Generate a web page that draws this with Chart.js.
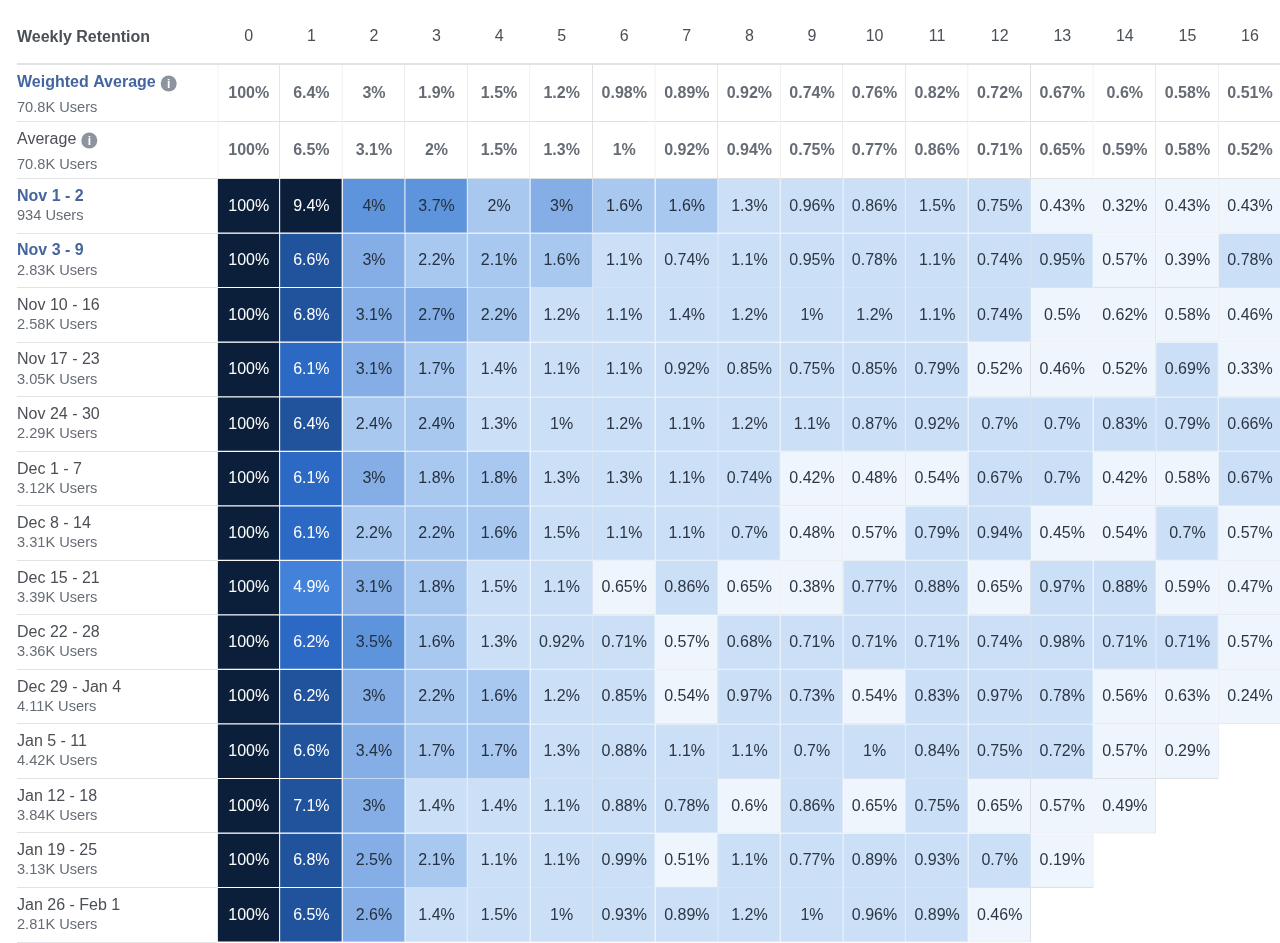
<!DOCTYPE html>
<html>
<head>
<meta charset="utf-8">
<title>Weekly Retention</title>
<script src="https://cdn.jsdelivr.net/npm/chart.js@4/dist/chart.umd.min.js"></script>
<style>
    html, body { margin: 0; padding: 0; background: #fff; overflow: hidden; }
    canvas { display: block; }
</style>
</head>
<body>
<canvas id="retentionChart" width="1282" height="943"></canvas>
<script>
// Table data
var weeks = ['0', '1', '2', '3', '4', '5', '6', '7', '8', '9', '10', '11', '12', '13', '14', '15', '16'];
var cornerTitle = 'Weekly Retention';

var averageNames = ['Weighted Average', 'Average'];
var averageUsers = ['70.8K Users', '70.8K Users'];
var weightedAverage = [100, 6.4, 3, 1.9, 1.5, 1.2, 0.98, 0.89, 0.92, 0.74, 0.76, 0.82, 0.72, 0.67, 0.6, 0.58, 0.51];
var plainAverage = [100, 6.5, 3.1, 2, 1.5, 1.3, 1, 0.92, 0.94, 0.75, 0.77, 0.86, 0.71, 0.65, 0.59, 0.58, 0.52];

var cohortNames = ['Nov 1 - 2', 'Nov 3 - 9', 'Nov 10 - 16', 'Nov 17 - 23', 'Nov 24 - 30', 'Dec 1 - 7', 'Dec 8 - 14',
    'Dec 15 - 21', 'Dec 22 - 28', 'Dec 29 - Jan 4', 'Jan 5 - 11', 'Jan 12 - 18', 'Jan 19 - 25', 'Jan 26 - Feb 1'];
var cohortUsers = ['934 Users', '2.83K Users', '2.58K Users', '3.05K Users', '2.29K Users', '3.12K Users', '3.31K Users',
    '3.39K Users', '3.36K Users', '4.11K Users', '4.42K Users', '3.84K Users', '3.13K Users', '2.81K Users'];

var nov1 = [100, 9.4, 4, 3.7, 2, 3, 1.6, 1.6, 1.3, 0.96, 0.86, 1.5, 0.75, 0.43, 0.32, 0.43, 0.43];
var nov3 = [100, 6.6, 3, 2.2, 2.1, 1.6, 1.1, 0.74, 1.1, 0.95, 0.78, 1.1, 0.74, 0.95, 0.57, 0.39, 0.78];
var nov10 = [100, 6.8, 3.1, 2.7, 2.2, 1.2, 1.1, 1.4, 1.2, 1, 1.2, 1.1, 0.74, 0.5, 0.62, 0.58, 0.46];
var nov17 = [100, 6.1, 3.1, 1.7, 1.4, 1.1, 1.1, 0.92, 0.85, 0.75, 0.85, 0.79, 0.52, 0.46, 0.52, 0.69, 0.33];
var nov24 = [100, 6.4, 2.4, 2.4, 1.3, 1, 1.2, 1.1, 1.2, 1.1, 0.87, 0.92, 0.7, 0.7, 0.83, 0.79, 0.66];
var dec1 = [100, 6.1, 3, 1.8, 1.8, 1.3, 1.3, 1.1, 0.74, 0.42, 0.48, 0.54, 0.67, 0.7, 0.42, 0.58, 0.67];
var dec8 = [100, 6.1, 2.2, 2.2, 1.6, 1.5, 1.1, 1.1, 0.7, 0.48, 0.57, 0.79, 0.94, 0.45, 0.54, 0.7, 0.57];
var dec15 = [100, 4.9, 3.1, 1.8, 1.5, 1.1, 0.65, 0.86, 0.65, 0.38, 0.77, 0.88, 0.65, 0.97, 0.88, 0.59, 0.47];
var dec22 = [100, 6.19, 3.5, 1.6, 1.3, 0.92, 0.71, 0.57, 0.68, 0.71, 0.71, 0.71, 0.74, 0.98, 0.71, 0.71, 0.57];
var dec29 = [100, 6.2, 3, 2.2, 1.6, 1.2, 0.85, 0.54, 0.97, 0.73, 0.54, 0.83, 0.97, 0.78, 0.56, 0.63, 0.24];
var jan5 = [100, 6.6, 3.4, 1.7, 1.7, 1.3, 0.88, 1.1, 1.1, 0.7, 1, 0.84, 0.75, 0.72, 0.57, 0.29];
var jan12 = [100, 7.1, 3, 1.4, 1.4, 1.1, 0.88, 0.78, 0.6, 0.86, 0.65, 0.75, 0.65, 0.57, 0.49];
var jan19 = [100, 6.8, 2.5, 2.1, 1.1, 1.1, 0.99, 0.51, 1.1, 0.77, 0.89, 0.93, 0.7, 0.19];
var jan26 = [100, 6.5, 2.6, 1.4, 1.5, 1, 0.93, 0.89, 1.2, 1, 0.96, 0.89, 0.46];

var cohorts = [nov1, nov3, nov10, nov17, nov24, dec1, dec8, dec15, dec22, dec29, jan5, jan12, jan19, jan26];
var averages = [weightedAverage, plainAverage];

// Colour steps of the heat map, darkest first
var shades = [
    { from: 7.5, fill: '#0b1f3a', line: '#ffffff', text: '#ffffff' },
    { from: 6.2, fill: '#21529c', line: '#ffffff', text: '#ffffff' },
    { from: 5.5, fill: '#2b69c4', line: '#ffffff', text: '#ffffff' },
    { from: 4.5, fill: '#4282da', line: '#ffffff', text: '#ffffff' },
    { from: 3.5, fill: '#5d94dc', line: '#c6d9f2', text: '#25303e' },
    { from: 2.45, fill: '#84aee5', line: '#c6d9f2', text: '#25303e' },
    { from: 1.55, fill: '#a8c8f0', line: '#cfe0f5', text: '#25303e' },
    { from: 0.655, fill: '#cbdff6', line: '#d6e3f3', text: '#2c3644' },
    { from: 0, fill: '#eef5fc', line: '#dde1e6', text: '#2c3644' }
];

function shadeFor(value) {
    return shades.find(function(s) { return value >= s.from; });
}

function percentText(value) {
    return Number(value.toPrecision(2)) + '%';
}

// The two average rows are a bit taller than a cohort row
var averageRowSpan = 1.045;
var font = '"Liberation Sans", Arial, sans-serif';

function rowEdges(row) {
    if (row < 2) {
        return [(row - 2) * averageRowSpan, (row - 1) * averageRowSpan];
    }
    return [row - 2, row - 1];
}

var datasets = [];
averages.concat(cohorts).forEach(function(values, row) {
    var isAverage = row < 2;
    datasets.push({
        label: isAverage ? averageNames[row] : cohortNames[row - 2],
        data: values.map(function() { return rowEdges(row); }),
        backgroundColor: values.map(function(v) { return isAverage ? '#ffffff' : shadeFor(v).fill; }),
        borderColor: values.map(function(v) { return isAverage ? '#dfe0e2' : shadeFor(v).line; }),
        borderWidth: values.map(function(v, col) {
            return { top: 0, right: 1, bottom: 1, left: col === 0 && isAverage ? 1 : 0 };
        }),
        borderSkipped: false,
        inflateAmount: 0,
        grouped: false,
        barPercentage: 1,
        categoryPercentage: 1
    });
});

function drawInfoIcon(ctx, x, y) {
    ctx.fillStyle = '#8d949e';
    ctx.beginPath();
    ctx.arc(x, y, 8, 0, Math.PI * 2);
    ctx.fill();
    ctx.fillStyle = '#ffffff';
    ctx.font = 'bold 12px ' + font;
    ctx.textAlign = 'center';
    ctx.fillText('i', x, y + 1);
}

// Draws the row labels, separators and the percentages in the cells
var tableText = {
    id: 'tableText',
    afterDatasetsDraw: function(chart) {
        var ctx = chart.ctx;
        var xScale = chart.scales.x;
        var yScale = chart.scales.y;
        var area = chart.chartArea;
        var labelX = 17;

        ctx.save();
        ctx.textBaseline = 'middle';

        // separators on the label column and the heavier line under the header
        ctx.fillStyle = '#e2e3e5';
        for (var r = 0; r < averages.length + cohorts.length; r++) {
            var edge = yScale.getPixelForValue(rowEdges(r)[1]);
            ctx.fillRect(labelX, Math.round(edge) - 1, area.left - labelX, 1);
        }
        ctx.fillRect(labelX, area.top - 2, area.right - labelX, 2);

        ctx.textAlign = 'left';
        ctx.fillStyle = '#4b4f56';
        ctx.font = 'bold 16px ' + font;
        ctx.fillText(cornerTitle, labelX, 37.5);

        averages.forEach(function(values, row) {
            var top = yScale.getPixelForValue(rowEdges(row)[0]);
            var nameFont = row === 0 ? 'bold 16px ' : '16px ';
            ctx.textAlign = 'left';
            ctx.font = nameFont + font;
            ctx.fillStyle = row === 0 ? '#44659f' : '#4b4f56';
            ctx.fillText(averageNames[row], labelX, top + 17.5);
            var nameWidth = ctx.measureText(averageNames[row]).width;
            ctx.font = '14.6px ' + font;
            ctx.fillStyle = '#666c75';
            ctx.fillText(averageUsers[row], labelX, top + 42.5);
            drawInfoIcon(ctx, labelX + nameWidth + 13, top + 18.5);

            ctx.font = 'bold 16px ' + font;
            ctx.textAlign = 'center';
            ctx.fillStyle = '#666c75';
            values.forEach(function(v, col) {
                var mid = (yScale.getPixelForValue(rowEdges(row)[0]) + yScale.getPixelForValue(rowEdges(row)[1])) / 2;
                ctx.fillText(percentText(v), xScale.getPixelForValue(col), mid);
            });
        });

        cohorts.forEach(function(values, i) {
            var top = yScale.getPixelForValue(i);
            var mid = yScale.getPixelForValue(i + 0.5);
            ctx.textAlign = 'left';
            ctx.font = (i < 2 ? 'bold 16px ' : '16px ') + font;
            ctx.fillStyle = i < 2 ? '#44659f' : '#4b4f56';
            ctx.fillText(cohortNames[i], labelX, top + 17.5);
            ctx.font = '14.6px ' + font;
            ctx.fillStyle = '#666c75';
            ctx.fillText(cohortUsers[i], labelX, top + 37);

            ctx.font = '16px ' + font;
            ctx.textAlign = 'center';
            values.forEach(function(v, col) {
                ctx.fillStyle = shadeFor(v).text;
                ctx.fillText(percentText(v), xScale.getPixelForValue(col), mid);
            });
        });
        ctx.restore();
    }
};

new Chart(document.getElementById('retentionChart').getContext('2d'), {
    type: 'bar',
    data: { labels: weeks, datasets: datasets },
    plugins: [tableText],
    options: {
        responsive: false,
        animation: false,
        layout: { padding: { left: 217.5, right: 0.7, top: 0, bottom: 0.5 } },
        plugins: { legend: { display: false }, tooltip: { enabled: false } },
        scales: {
            x: {
                position: 'top',
                grid: { display: false, drawTicks: false },
                border: { display: false },
                afterFit: function(scale) { scale.height = 65; },
                ticks: {
                    autoSkip: false,
                    maxRotation: 0,
                    padding: 19,
                    color: '#4b4f56',
                    font: { family: font, size: 16 }
                }
            },
            y: {
                display: false,
                reverse: true,
                min: -2 * averageRowSpan,
                max: cohorts.length
            }
        }
    }
});
</script>
</body>
</html>
